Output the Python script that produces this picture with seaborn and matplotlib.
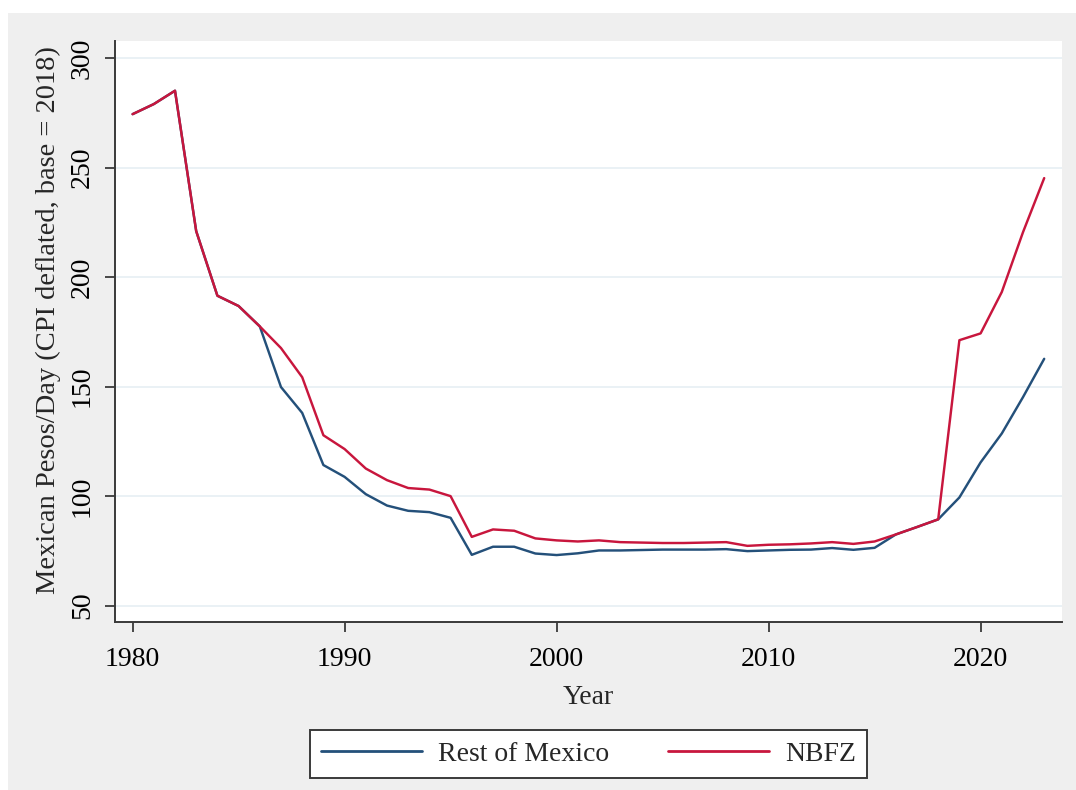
import pandas as pd
import matplotlib.pyplot as plt
import matplotlib.patches as mpatches
import seaborn as sns

# Values (pesos/day, CPI deflated, base = 2018)
years = list(range(1980, 2024))
rest_of_mexico = [274.4, 279.0, 285.1, 221.0, 191.5, 186.8, 177.5, 149.8, 138.0, 114.2,
                  108.8, 100.9, 95.7, 93.3, 92.7, 90.1, 73.2, 76.9, 76.9, 73.8,
                  73.1, 73.9, 75.2, 75.2, 75.4, 75.6, 75.6, 75.6, 75.8, 74.9,
                  75.2, 75.5, 75.6, 76.3, 75.5, 76.4, 82.5, 85.9, 89.4, 99.4,
                  115.4, 128.6, 145.2, 162.7]
nbfz = [274.4, 279.0, 285.1, 221.0, 191.5, 186.8, 177.5, 167.6, 154.3, 127.8,
        121.5, 112.6, 107.3, 103.7, 103.0, 100.0, 81.4, 84.8, 84.2, 80.7,
        79.8, 79.3, 79.8, 79.0, 78.8, 78.6, 78.6, 78.8, 79.0, 77.3,
        77.8, 78.0, 78.4, 79.0, 78.2, 79.3, 82.5, 85.9, 89.4, 171.2,
        174.3, 193.2, 220.5, 245.2]
series_names = ['Rest of Mexico', 'NBFZ']
y_ticks = [50, 100, 150, 200, 250, 300]
x_ticks = [1980, 1990, 2000, 2010, 2020]

df = pd.concat([
    pd.DataFrame({'year': years, 'wage': rest_of_mexico, 'region': series_names[0]}),
    pd.DataFrame({'year': years, 'wage': nbfz, 'region': series_names[1]}),
])

sns.set_style('white')
plt.rcParams['font.family'] = ['Liberation Serif', 'DejaVu Serif']

fig = plt.figure(figsize=(10.76, 7.90), dpi=100)
fig.patch.set_facecolor('white')
# gray outer graph region (Stata-like)
fig.add_artist(mpatches.Rectangle((8 / 1076, 0), 1 - 8 / 1076, 1 - 13 / 790,
                                  transform=fig.transFigure, facecolor='#efefef',
                                  edgecolor='none', zorder=-5))

ax = fig.add_axes([115 / 1076, 1 - 622.3 / 790, (1062 - 115) / 1076, (622.3 - 41) / 790])
ax.set_facecolor('white')

palette = {'Rest of Mexico': '#24507a', 'NBFZ': '#c8163d'}
sns.lineplot(data=df, x='year', y='wage', hue='region', hue_order=series_names,
             palette=palette, linewidth=1.75, ax=ax)

ax.set_xlim(1979.17, 2023.84)
ax.set_ylim(42.4, 307.8)
ax.set_xticks(x_ticks)
ax.set_yticks(y_ticks)
ax.yaxis.grid(True, color='#e8f0f4', linewidth=1.3)
ax.xaxis.grid(False)
ax.set_axisbelow(True)

for side in ['top', 'right']:
    ax.spines[side].set_visible(False)
for side in ['left', 'bottom']:
    ax.spines[side].set_color('#3a3a3a')
    ax.spines[side].set_linewidth(1.4)

ax.tick_params(axis='both', direction='out', length=7.5, width=1.3, color='#3a3a3a',
               labelsize=20, labelcolor='black', left=True, bottom=True)
ax.tick_params(axis='y', pad=7, labelrotation=90)
ax.tick_params(axis='x', pad=10)
for lab in ax.get_yticklabels():
    lab.set_va('center')

ax.set_xlabel('Year', fontsize=20, labelpad=10)
ax.set_ylabel('Mexican Pesos/Day (CPI deflated, base = 2018)', fontsize=20.5)
ax.yaxis.set_label_coords(-0.057, 0.52)

handles, labels = ax.get_legend_handles_labels()
ax.get_legend().remove()
leg = fig.legend(handles, labels, loc='center', bbox_to_anchor=(588.5 / 1076, 1 - 754 / 790),
                 ncol=2, fontsize=20, frameon=True, fancybox=False, handlelength=3.63,
                 handletextpad=0.58, columnspacing=2.1, borderpad=0.42)
leg.get_frame().set_edgecolor('#3a3a3a')
leg.get_frame().set_linewidth(1.4)
leg.get_frame().set_facecolor('white')
leg.get_frame().set_alpha(1)
for line in leg.get_lines():
    line.set_linewidth(2)

plt.savefig('out.png', dpi=100)
